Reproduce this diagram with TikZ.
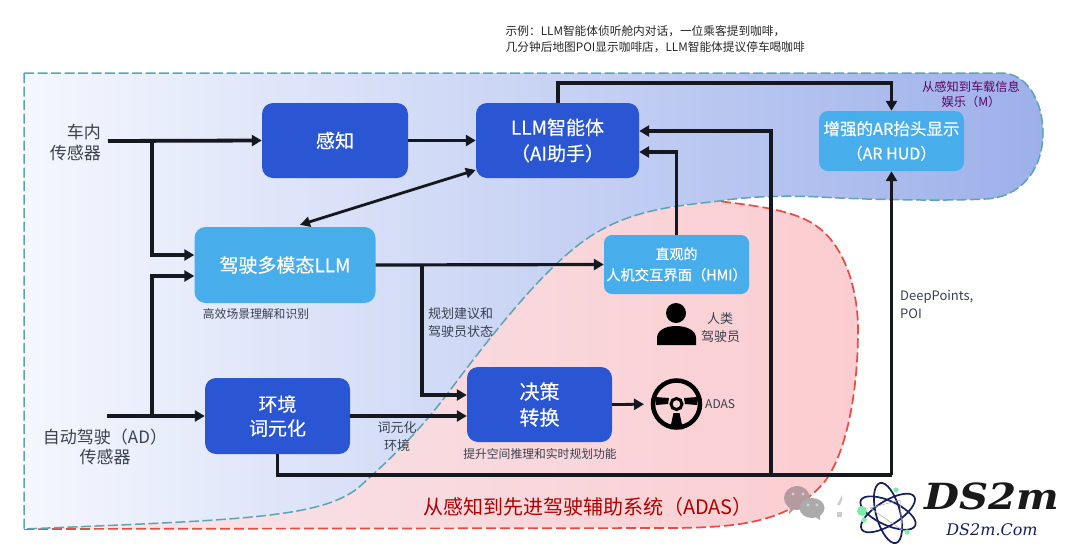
\documentclass[tikz,border=0pt]{standalone}
\usepackage{fontspec}
\setmainfont{Noto Sans CJK SC}
\newfontfamily\medfont[FakeBold=0.35]{Noto Sans CJK SC}
\newfontfamily\logofont{DejaVu Serif}
\usetikzlibrary{arrows.meta,calc}
\definecolor{deepblue}{HTML}{2A56D4}
\definecolor{skyblue}{HTML}{48AEEB}
\definecolor{linecol}{HTML}{15181F}
\definecolor{tealdash}{HTML}{5AA5B5}
\definecolor{reddash}{HTML}{EE4A40}
\definecolor{labelcol}{HTML}{39404F}
\definecolor{logonavy}{HTML}{16205E}
\definecolor{logogreen}{HTML}{7FEBA8}
\definecolor{blueleft}{HTML}{F5F7FE}
\definecolor{bluemid}{HTML}{C9D4F4}
\definecolor{blueright}{HTML}{9DB0EA}
\definecolor{redleft}{HTML}{F6E7EE}
\definecolor{redmid}{HTML}{F8DAE0}
\definecolor{redright}{HTML}{FBCDD0}
\definecolor{chatone}{HTML}{B59AA0}
\definecolor{chattwo}{HTML}{ABABAB}
\newcommand{\fs}[1]{\fontsize{#1}{#1}\selectfont}
\tikzset{
  box/.style={rounded corners=11pt,inner sep=0pt,align=center,text=white,font=\medfont\fs{19}},
  darkbox/.style={box,fill=deepblue},
  lightbox/.style={box,fill=skyblue},
  conn/.style={draw=linecol,line width=3.2pt,-{Triangle[length=10pt,width=11pt]}},
  thinconn/.style={conn,line width=2.8pt},
  plain/.style={draw=linecol,line width=3.2pt},
  twoway/.style={draw=linecol,line width=2.8pt,{Triangle[length=10pt,width=10pt]}-{Triangle[length=10pt,width=10pt]}},
  lab/.style={inner sep=0pt,text=labelcol,align=center,font=\fs{13}},
}
\begin{document}
\begin{tikzpicture}[x=1pt,y=-1pt]
\useasboundingbox (0,0) rectangle (1080,547);
% red region
\shade[left color=redleft,middle color=redmid,right color=redright]
  (24,529) -- (678,528) .. controls (730,527) and (790,525) .. (826,480)
  .. controls (850,445) and (858,380) .. (858,330)
  .. controls (858,290) and (845,245) .. (815,225)
  .. controls (790,208) and (745,205) .. (719,201) -- (24,300) -- cycle;
\draw[reddash,line width=1.7pt,dash pattern=on 10pt off 4pt]
  (24,529) -- (678,528) .. controls (730,527) and (790,525) .. (826,480)
  .. controls (850,445) and (858,380) .. (858,330)
  .. controls (858,290) and (845,245) .. (815,225)
  .. controls (790,208) and (745,205) .. (719,201);
% blue region
\def\bluepath{(24,73) -- (1001,73) .. controls (1028,73) and (1043,103) .. (1043,133)
  .. controls (1043,170) and (1020,198) .. (985,199)
  .. controls (950,201) and (870,200) .. (820,197)
  .. controls (780,195) and (745,197) .. (719,201)
  .. controls (680,206) and (630,208) .. (585,240)
  .. controls (550,265) and (510,310) .. (448,393)
  .. controls (420,430) and (395,455) .. (358,488)
  .. controls (320,518) and (240,520) .. (24,529) -- cycle}
\shade[left color=blueleft,middle color=bluemid,right color=blueright]
  \bluepath;
\draw[tealdash,line width=1.5pt,dash pattern=on 10pt off 3.5pt] \bluepath;
% boxes
\node[darkbox,minimum width=146pt,minimum height=75pt] (percep) at (335,140.5) {感知};
\node[darkbox,minimum width=163pt,minimum height=75pt] (agent) at (557.5,140.5) {LLM智能体\\[7pt]（AI助手）};
\node[lightbox,minimum width=181pt,minimum height=76pt] (multi) at (285,265) {驾驶多模态LLM};
\node[darkbox,minimum width=145pt,minimum height=76pt] (token) at (277.5,416) {环境\\[5pt]词元化};
\node[darkbox,minimum width=145pt,minimum height=75pt,font=\medfont\fs{20}] (decide) at (539.5,404.5) {决策\\[6pt]转换};
\node[lightbox,rounded corners=8pt,minimum width=145pt,minimum height=59pt,font=\medfont\fs{14}] (hmi) at (676.5,264.5) {直观的\\[7pt]{\fs{14.3}人机交互界面（HMI）}};
\node[lightbox,rounded corners=9pt,minimum width=145pt,minimum height=60pt,font=\medfont\fs{16.5}] (hud) at (891.5,141) {增强的AR抬头显示\\[8pt]{\fs{16}（AR HUD）}};
% wheel
\node[circle,draw=black,line width=4.5pt,minimum size=47pt,inner sep=0pt,outer sep=9pt] (wheel) at (676.5,404) {};
\fill[black] (655,397) -- (669,398) -- (668,404) -- (656,405) -- cycle;
\fill[black] (698,397) -- (684,398) -- (685,404) -- (697,405) -- cycle;
\fill[black] (673.5,413) -- (679.5,413) -- (683,429) -- (670,429) -- cycle;
\node[circle,draw=black,line width=3pt,minimum size=11pt,inner sep=0pt] (hub) at (676.5,404) {};
% person
\node[circle,fill=black,minimum size=20pt,inner sep=0pt] (head) at (676,313) {};
\fill[black] (657,345) -- (657,338) .. controls (657,330) and (666,326) .. (676,326) .. controls (686,326) and (696,330) .. (696,338) -- (696,345) -- cycle;
% free ends and bends
\coordinate (incar) at (108,141);
\coordinate (ad) at (107,416);
\coordinate (tapa) at (152,141);
\coordinate (tapb) at (152,416);
\coordinate (tapc) at (422,265);
\coordinate (run) at (277.5,475);
\coordinate (tapd) at (771,475);
\coordinate (top) at (558,83);
% connectors
\draw[conn,line width=3.8pt] (incar) -- (percep.west);
\draw[conn] (tapa) -- (tapa |- 0,255) -- (multi.west |- 0,255);
\draw[conn,line width=3.8pt] (ad) -- (token.west);
\draw[conn] (tapb) -- (tapb |- 0,276) -- (multi.west |- 0,276);
\draw[conn] (percep.east) -- (agent.west);
\draw[twoway] (agent.west |- 0,170) -- ($(multi.north)+(15,-2)$);
\draw[conn] (multi.east) -- (hmi.west);
\draw[conn] (tapc) -- (tapc |- 0,395) -- (decide.west |- 0,395);
\draw[conn] (token.east) -- (decide.west |- token.east);
\draw[thinconn] (decide.east) -- (wheel);
\draw[conn] (hmi.north) -- (hmi.north |- 0,152) -- (agent.east |- 0,152);
\draw[conn] (top |- agent.north) -- (top) -- (hud.north |- top) -- (hud.north);
\draw[plain] (token.south) -- (run) -- (hud.south |- run);
\draw[conn] (hud.south |- run) -- (hud.south);
\draw[conn] (tapd) -- (tapd |- 0,131) -- (agent.east |- 0,131);
% labels
\node[lab,anchor=west,font=\fs{11.7},align=left,text=black!85] (note) at (505.5,39.5) {示例：LLM智能体侦听舱内对话，一位乘客提到咖啡，\\[4.3pt]几分钟后地图POI显示咖啡店，LLM智能体提议停车喝咖啡};
\node[lab,anchor=east,font=\fs{17},align=right] (incarlab) at (101,142) {车内\\[4pt]传感器};
\node[lab,font=\fs{17}] (adlab) at (105,447) {自动驾驶（AD）\\[3pt]传感器};
\node[lab,font=\fs{11.8}] (scene) at (256,314) {高效场景理解和识别};
\node[lab,anchor=west,align=left] (plan) at (428,323) {规划建议和\\[5pt]驾驶员状态};
\node[lab] (envlab) at (397,436.5) {词元化\\[5pt]环境};
\node[lab,font=\fs{11.8}] (space) at (540,454) {提升空间推理和实时规划功能};
\node[lab,anchor=west,align=left] (human) at (701,328) {\hspace*{6pt}人类\\[5pt]驾驶员};
\node[lab,anchor=west,font=\fs{12}] (adas) at (705,404) {ADAS};
\node[lab,anchor=west,align=left] (deep) at (900,305) {DeepPoints,\\[5pt]POI};
\node[lab,text=violet!75!black,font=\fs{12.2}] (infot) at (971,94) {从感知到车载信息\\[3pt]娱乐（M）};
\node[lab,text=red!70!black,font=\fs{20}] (adastitle) at (588,507) {从感知到先进驾驶辅助系统（ADAS）};
% watermark
\fill[black!20] (837,505) -- (842,495) -- (842,500) -- (840,505) -- cycle;
\fill[black!20] (837,512) -- (842,512) -- (842,517) -- (837,517) -- cycle;
\fill[chatone] (797,498) ellipse[x radius=13pt,y radius=12pt];
\fill[chatone] (790,506) -- (794,509) -- (789,514) -- cycle;
\fill[chattwo] (812,508) ellipse[x radius=12.5pt,y radius=10pt];
\fill[chattwo] (814,516) -- (820,514) -- (820,520) -- cycle;
\foreach \a/\b in {793/494,803/494,808/505,817/505}{\fill[white!65!gray] (\a,\b) circle (1.7pt);}
% logo
\begin{scope}[draw=logonavy,line width=1.7pt]
\draw (888,513) ellipse[x radius=31pt,y radius=12pt,rotate=-75];
\draw (888,513) ellipse[x radius=30pt,y radius=12pt,rotate=-25];
\draw (888,513) ellipse[x radius=31pt,y radius=12pt,rotate=32];
\draw[black!30,line width=.6pt] (870,508) -- (900,500) -- (902,530) -- cycle;
\end{scope}
\fill[logogreen] (862,511) circle (5pt) (896,490) circle (2.6pt) (864,520) circle (2.6pt) (907,532) circle (2.6pt);
\node[inner sep=0pt,text=black!90,xscale=1.12,font={\logofont\bfseries\itshape\fs{36}}] (logo) at (992,496) {DS2m};
\node[inner sep=0pt,text=logonavy,font={\logofont\itshape\fs{16}}] (logourl) at (992,530) {DS2m.Com};
\end{tikzpicture}
\end{document}
